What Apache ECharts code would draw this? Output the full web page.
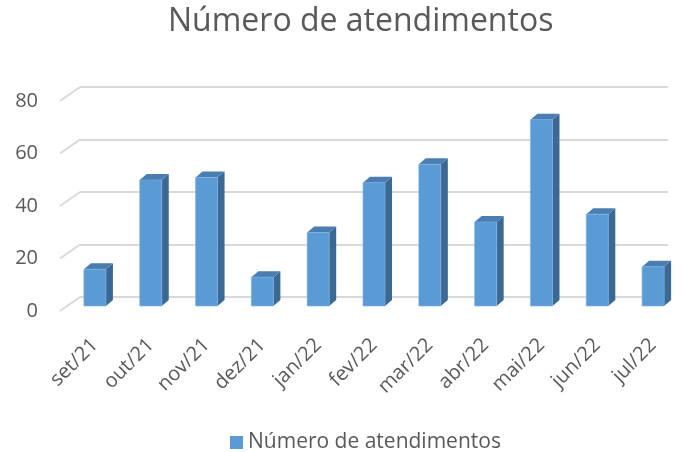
<!DOCTYPE html>
<html><head><meta charset="utf-8">
<script src="https://cdn.jsdelivr.net/npm/echarts@6/dist/echarts.min.js"></script>
<style>html,body{margin:0;padding:0;background:#fff}#c{width:683px;height:452px}</style>
</head><body><div id="c"></div>
<script>
const categories = ['set/21','out/21','nov/21','dez/21','jan/22','fev/22','mar/22','abr/22','mai/22','jun/22','jul/22'];
const values = [14,48,49,11,28,47,54,32,71,35,15];
const yTicks = [0,20,40,60,80];
const seriesName = 'Número de atendimentos';
const titleText = 'Número de atendimentos';

const FONT = 'Open Sans';
const DX = 7, DY = 6;     // bar depth
const WX = 20, WY = 14;   // floor depth

const chart = echarts.init(document.getElementById('c'), null, {renderer:'canvas'});
chart.setOption({
  animation:false,
  backgroundColor:'#fff',
  title:{text:titleText,left:168,top:6,padding:0,textStyle:{fontFamily:FONT,fontSize:32,fontWeight:'normal',color:'#595959'}},
  legend:{top:432,left:230,padding:0,itemWidth:13,itemHeight:13,itemGap:5,
    textStyle:{fontFamily:FONT,fontSize:21,color:'#595959'},
    data:[{name:seriesName,icon:'rect',itemStyle:{color:'#5b9bd5'}}]},
  grid:[
    {left:60,top:101,height:210,width:20},
    {left:80,top:87,height:210,right:15},
    {left:67,top:96,height:210,width:614}
  ],
  xAxis:[
    {gridIndex:0,type:'value',min:0,max:1,show:false},
    {gridIndex:1,type:'value',min:0,max:1,show:false},
    {gridIndex:2,type:'category',data:categories,axisLine:{show:false},axisTick:{show:false},
      axisLabel:{rotate:45,margin:36,interval:0,fontFamily:FONT,fontSize:20,color:'#595959'}}
  ],
  yAxis:[
    {gridIndex:0,type:'value',min:0,max:80,interval:20,axisLine:{show:false},axisTick:{show:false},splitLine:{show:false},
      axisLabel:{margin:22,fontFamily:FONT,fontSize:20,color:'#595959'}},
    {gridIndex:1,type:'value',min:0,max:80,interval:20,axisLine:{show:false},axisTick:{show:false},axisLabel:{show:false},
      splitLine:{show:true,lineStyle:{color:'#d9d9d9',width:2}}},
    {gridIndex:2,type:'value',min:0,max:80,show:false}
  ],
  series:[
    {type:'custom',xAxisIndex:0,yAxisIndex:0,data:yTicks,silent:true,
      renderItem:function(params,api){
        const p = api.coord([0,api.value(0)]);
        return {type:'line',shape:{x1:p[0],y1:p[1],x2:p[0]+WX,y2:p[1]-WY},style:{stroke:'#d9d9d9',lineWidth:2}};
      }},
    {type:'custom',name:seriesName,xAxisIndex:2,yAxisIndex:2,data:values,
      encode:{x:-1,y:0},
      renderItem:function(params,api){
        const idx = params.dataIndex;
        const v = api.value(0);
        const top = api.coord([idx,v]);
        const bot = api.coord([idx,0]);
        const band = api.size([1,0])[0];
        const w = band*0.395;
        const x0 = top[0]-w/2, x1 = top[0]+w/2;
        return {type:'group',children:[
          {type:'polygon',shape:{points:[[x1,bot[1]],[x1+DX,bot[1]-DY],[x1+DX,top[1]-DY],[x1,top[1]]]},style:{fill:'#3c6993'}},
          {type:'polygon',shape:{points:[[x0,top[1]],[x1,top[1]],[x1+DX,top[1]-DY],[x0+DX,top[1]-DY]]},style:{fill:'#4a7db2'}},
          {type:'rect',shape:{x:x0,y:top[1],width:w,height:bot[1]-top[1]},style:{fill:'#5b9bd5',stroke:'#7fb2e0',lineWidth:0.6}}
        ]};
      }}
  ]
});
</script></body></html>
